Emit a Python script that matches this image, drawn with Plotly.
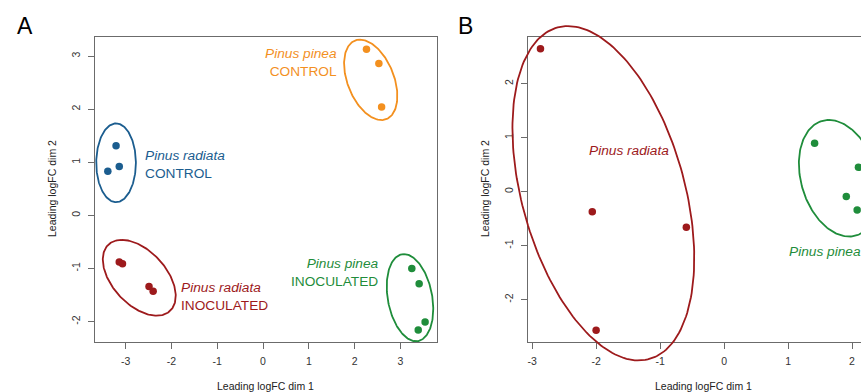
import numpy as np
import plotly.graph_objects as go

# ---------------- data ----------------
# Panel A: MDS of all samples (leading logFC dims 1 and 2)
a_radiata_ctrl_x = [-3.21, -3.39, -3.14]
a_radiata_ctrl_y = [1.31, 0.83, 0.92]
a_pinea_ctrl_x = [2.26, 2.53, 2.59]
a_pinea_ctrl_y = [3.13, 2.86, 2.04]
a_radiata_inoc_x = [-3.14, -3.07, -2.49, -2.40]
a_radiata_inoc_y = [-0.88, -0.91, -1.34, -1.43]
a_pinea_inoc_x = [3.25, 3.41, 3.54, 3.39]
a_pinea_inoc_y = [-1.00, -1.29, -2.01, -2.16]

# Panel B: MDS of inoculated samples
b_radiata_x = [-2.87, -2.06, -0.59, -2.00]
b_radiata_y = [2.65, -0.37, -0.66, -2.57]
b_pinea_x = [1.415, 2.10, 1.91, 2.08]
b_pinea_y = [0.896, 0.45, -0.09, -0.34]

x_ticks_a = [-3, -2, -1, 0, 1, 2, 3]
y_ticks_a = [-2, -1, 0, 1, 2, 3]
x_ticks_b = [-3, -2, -1, 0, 1, 2]
y_ticks_b = [-2, -1, 0, 1, 2]

# group ellipses: centre, two conjugate semi-axis vectors (data units)
ell_a_radiata_ctrl = ((-3.21, 0.99), (0.0, 0.742), (0.433, 0.0))
ell_a_pinea_ctrl = ((2.352, 2.553), (-0.234, 0.758), (0.533, 0.0))
ell_a_radiata_inoc = ((-2.703, -1.175), (-0.382, 0.714), (0.699, 0.0))
ell_a_pinea_inoc = ((3.21, -1.551), (-0.131, 0.821), (0.491, 0.0))
ell_b_radiata = ((-1.887, -0.03), (-0.553, 3.098), (1.309, 0.0))
ell_b_pinea = ((1.796, 0.248), (-0.157, 1.080), (0.607, 0.0))

BLUE = "#1b5d8f"
ORANGE = "#f3901f"
RED = "#9d1a1c"
GREEN = "#1f8d3b"
FRAME = "#6b6b6b"
TICKTXT = "#333333"
FONT = "Liberation Sans, Arial, sans-serif"

W, H = 861, 392

# plotting regions (paper fractions) and visible ranges
dom_a_x = [95 / W, 437 / W]
dom_a_y = [1 - 341.7 / H, 1 - 37 / H]
rng_a_x = [-3.67, 3.80]
rng_a_y = [-2.38, 3.36]

dom_b_x = [528.3 / W, 1.0]
dom_b_y = [1 - 341.7 / H, 1 - 37.3 / H]
rng_b_x = [-3.06, 2.14]
rng_b_y = [-2.78, 2.86]

# larger unclipped regions for the ellipse outlines (same scale)
ext_a_x = [0.04, 0.56]
ext_b_x = [0.56, 1.0]
ext_y = [0.02, 0.99]


def extend(rng, dom, ext):
    k = (rng[1] - rng[0]) / (dom[1] - dom[0])
    return [rng[0] - (dom[0] - ext[0]) * k, rng[1] + (ext[1] - dom[1]) * k]


def ellipse(params, n=200):
    (cx, cy), (ux, uy), (vx, vy) = params
    t = np.linspace(0, 2 * np.pi, n)
    return cx + ux * np.cos(t) + vx * np.sin(t), cy + uy * np.cos(t) + vy * np.sin(t)


fig = go.Figure()


def pts(x, y, color, xa, ya):
    fig.add_trace(go.Scatter(x=x, y=y, mode="markers", xaxis=xa, yaxis=ya,
                             marker=dict(size=7.5, color=color, line=dict(width=0)),
                             showlegend=False, hoverinfo="skip"))


def ell(params, color, xa, ya):
    ex, ey = ellipse(params)
    fig.add_trace(go.Scatter(x=ex, y=ey, mode="lines", xaxis=xa, yaxis=ya,
                             line=dict(color=color, width=1.8),
                             showlegend=False, hoverinfo="skip"))


pts(a_radiata_ctrl_x, a_radiata_ctrl_y, BLUE, "x", "y")
pts(a_pinea_ctrl_x, a_pinea_ctrl_y, ORANGE, "x", "y")
pts(a_radiata_inoc_x, a_radiata_inoc_y, RED, "x", "y")
pts(a_pinea_inoc_x, a_pinea_inoc_y, GREEN, "x", "y")
pts(b_radiata_x, b_radiata_y, RED, "x2", "y2")
pts(b_pinea_x, b_pinea_y, GREEN, "x2", "y2")

ell(ell_a_radiata_ctrl, BLUE, "x3", "y3")
ell(ell_a_pinea_ctrl, ORANGE, "x3", "y3")
ell(ell_a_radiata_inoc, RED, "x3", "y3")
ell(ell_a_pinea_inoc, GREEN, "x3", "y3")
ell(ell_b_radiata, RED, "x4", "y4")
ell(ell_b_pinea, GREEN, "x4", "y4")


def frame_axis(rng, dom, ticks, angle=0, mirror=True):
    return dict(range=rng, domain=dom, showline=True, linecolor=FRAME, linewidth=1,
                mirror=mirror, ticks="outside", ticklen=6, tickcolor=FRAME, tickwidth=1,
                tickvals=ticks, ticktext=[str(t) for t in ticks], tickangle=angle,
                tickfont=dict(size=10.5, color=TICKTXT, family=FONT),
                ticklabelstandoff=4,
                showgrid=False, zeroline=False, fixedrange=True)


def hidden_axis(rng, dom, ext, anchor):
    return dict(range=extend(rng, dom, ext), domain=ext, visible=False, anchor=anchor,
                showgrid=False, zeroline=False, fixedrange=True)


layout = dict(
    width=W, height=H, margin=dict(l=0, r=0, t=0, b=0),
    paper_bgcolor="white", plot_bgcolor="rgba(0,0,0,0)",
    font=dict(family=FONT, color="#222222"),
    xaxis=dict(frame_axis(rng_a_x, dom_a_x, x_ticks_a), anchor="y"),
    yaxis=dict(frame_axis(rng_a_y, dom_a_y, y_ticks_a, angle=-90), anchor="x"),
    xaxis2=dict(frame_axis(rng_b_x, dom_b_x, x_ticks_b), anchor="y2"),
    yaxis2=dict(frame_axis(rng_b_y, dom_b_y, y_ticks_b, angle=-90, mirror=False), anchor="x2"),
    xaxis3=hidden_axis(rng_a_x, dom_a_x, ext_a_x, "y3"),
    yaxis3=hidden_axis(rng_a_y, dom_a_y, ext_y, "x3"),
    xaxis4=hidden_axis(rng_b_x, dom_b_x, ext_b_x, "y4"),
    yaxis4=hidden_axis(rng_b_y, dom_b_y, ext_y, "x4"),
)
fig.update_layout(**layout)

LBL = 13.7


def label(text, x, y, color, xa, ya, xanchor, align):
    fig.add_annotation(text=text, x=x, y=y, xref=xa, yref=ya, showarrow=False,
                       xanchor=xanchor, yanchor="middle", align=align,
                       font=dict(size=LBL, color=color, family=FONT))


label("<i>Pinus radiata</i><br>CONTROL", -2.63, 0.964, BLUE, "x", "y", "left", "left")
label("<i>Pinus pinea</i><br>CONTROL", 1.65, 2.885, ORANGE, "x", "y", "right", "right")
label("<i>Pinus radiata</i><br>INOCULATED", -1.83, -1.519, RED, "x", "y", "left", "left")
label("<i>Pinus pinea</i><br>INOCULATED", 2.58, -1.068, GREEN, "x", "y", "right", "right")
label("<i>Pinus radiata</i>", -2.14, 0.759, RED, "x2", "y2", "left", "left")
label("<i>Pinus pinea</i>", 0.99, -1.111, GREEN, "x2", "y2", "left", "left")


def paper_text(text, x, y, size, angle=0):
    fig.add_annotation(text=text, x=x / W, y=1 - y / H, xref="paper", yref="paper",
                       showarrow=False, xanchor="center", yanchor="middle",
                       textangle=angle, font=dict(size=size, color="#222222", family=FONT))


# axis titles
paper_text("Leading logFC dim 1", 265.5, 386, 10.5)
paper_text("Leading logFC dim 1", 703, 386, 10.5)
paper_text("Leading logFC dim 2", 52, 189, 10.5, angle=-90)
paper_text("Leading logFC dim 2", 485, 189, 10.5, angle=-90)

# panel letters
fig.add_annotation(text="A", x=25 / W, y=1 - 26.5 / H, xref="paper", yref="paper",
                   showarrow=False, xanchor="center", yanchor="middle",
                   font=dict(size=23, color="#000000", family=FONT))
fig.add_annotation(text="B", x=465 / W, y=1 - 26.5 / H, xref="paper", yref="paper",
                   showarrow=False, xanchor="center", yanchor="middle",
                   font=dict(size=23, color="#000000", family=FONT))

fig.write_html("out.html")
